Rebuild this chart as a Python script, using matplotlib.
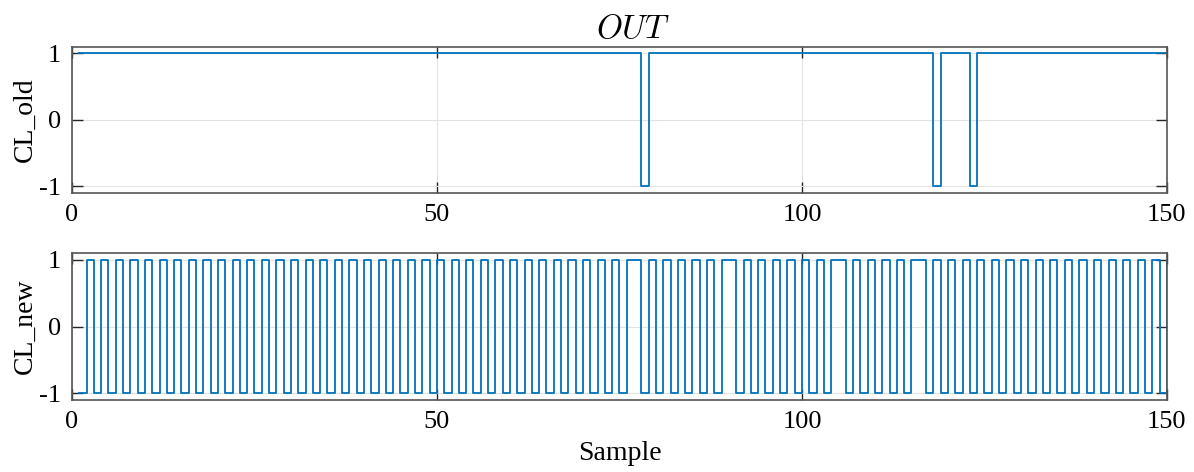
import numpy as np
import matplotlib
matplotlib.use('Agg')
import matplotlib.pyplot as plt

plt.rcParams['font.family'] = ['Liberation Serif', 'DejaVu Serif']
plt.rcParams['mathtext.fontset'] = 'cm'
plt.rcParams['axes.unicode_minus'] = False

# samples 1..150
amostras = np.arange(1, 151)

cl_old = [
    1, 1, 1, 1, 1, 1, 1, 1, 1, 1,
    1, 1, 1, 1, 1, 1, 1, 1, 1, 1,
    1, 1, 1, 1, 1, 1, 1, 1, 1, 1,
    1, 1, 1, 1, 1, 1, 1, 1, 1, 1,
    1, 1, 1, 1, 1, 1, 1, 1, 1, 1,
    1, 1, 1, 1, 1, 1, 1, 1, 1, 1,
    1, 1, 1, 1, 1, 1, 1, 1, 1, 1,
    1, 1, 1, 1, 1, 1, 1, -1, 1, 1,
    1, 1, 1, 1, 1, 1, 1, 1, 1, 1,
    1, 1, 1, 1, 1, 1, 1, 1, 1, 1,
    1, 1, 1, 1, 1, 1, 1, 1, 1, 1,
    1, 1, 1, 1, 1, 1, 1, -1, 1, 1,
    1, 1, -1, 1, 1, 1, 1, 1, 1, 1,
    1, 1, 1, 1, 1, 1, 1, 1, 1, 1,
    1, 1, 1, 1, 1, 1, 1, 1, 1, 1,
]

cl_new = [
    -1, 1, -1, 1, -1, 1, -1, 1, -1, 1,
    -1, 1, -1, 1, -1, 1, -1, 1, -1, 1,
    -1, 1, -1, 1, -1, 1, -1, 1, -1, 1,
    -1, 1, -1, 1, -1, 1, -1, 1, -1, 1,
    -1, 1, -1, 1, -1, 1, -1, 1, -1, 1,
    -1, 1, -1, 1, -1, 1, -1, 1, -1, 1,
    -1, 1, -1, 1, -1, 1, -1, 1, -1, 1,
    -1, 1, -1, 1, -1, 1, 1, -1, 1, -1,
    1, -1, 1, -1, 1, -1, 1, -1, 1, 1,
    -1, 1, -1, 1, -1, 1, -1, 1, -1, 1,
    -1, 1, -1, 1, 1, -1, 1, -1, 1, -1,
    1, -1, 1, -1, 1, 1, -1, 1, -1, 1,
    -1, 1, -1, 1, -1, 1, -1, 1, -1, 1,
    -1, 1, -1, 1, -1, 1, -1, 1, -1, 1,
    -1, 1, -1, 1, -1, 1, -1, 1, -1, 1,
]

x_ticks = [0, 50, 100, 150]
y_ticks = [-1, 0, 1]

cor = '#0072BD'

fig = plt.figure(figsize=(11.94, 4.72), dpi=100)
ax1 = fig.add_axes([0.0603, 0.591, 0.917, 0.310])
ax2 = fig.add_axes([0.0603, 0.1525, 0.917, 0.311])

for ax, y, nome in [(ax1, cl_old, 'CL_old'), (ax2, cl_new, 'CL_new')]:
    ax.step(amostras, y, where='post', color=cor, linewidth=1.3)
    ax.set_xlim(0, 150)
    ax.set_ylim(-1.1, 1.1)
    ax.set_xticks(x_ticks)
    ax.set_yticks(y_ticks)
    ax.set_yticklabels([str(v) for v in y_ticks])
    ax.grid(True, color='#e2e2e2', linewidth=0.8)
    ax.set_axisbelow(True)
    ax.tick_params(direction='in', top=True, right=True, length=8,
                   width=1.0, color='#262626', labelsize=19, pad=8)
    for s in ax.spines.values():
        s.set_color('#555555')
        s.set_linewidth(1.2)
    ax.set_ylabel(nome, fontsize=20, labelpad=1)

ax1.set_title(r'$OUT$', fontsize=24, pad=6, x=0.512)
ax2.set_xlabel('Sample', fontsize=20, labelpad=6)

plt.savefig('out.png', dpi=100)
